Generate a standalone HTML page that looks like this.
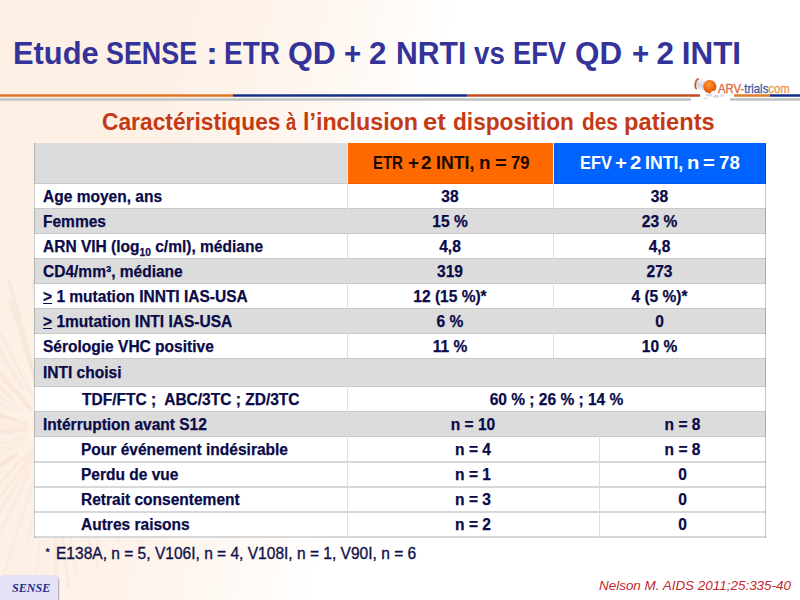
<!DOCTYPE html>
<html><head><meta charset="utf-8">
<style>
html,body{margin:0;padding:0;}
body{width:800px;height:600px;overflow:hidden;position:relative;font-family:"Liberation Sans",sans-serif;
background:linear-gradient(104deg,#fdefe3 0px,#fdf0e5 150px,#fef5ee 300px,#fffbf8 400px,#ffffff 445px);}
.a{position:absolute;white-space:pre;}
.ln{position:absolute;}
.hw{top:154px;font-size:17.6px;font-weight:bold;line-height:18px;transform-origin:0 0;}
.sw{top:109px;font-size:23px;font-weight:bold;color:#c43a14;line-height:26px;transform-origin:0 0;}
.tw{top:36px;font-size:31.4px;font-weight:bold;color:#333399;line-height:36px;transform-origin:0 0;}
.t{position:absolute;white-space:pre;font-weight:bold;font-size:16px;color:#0a0a48;line-height:18px;transform:scaleX(0.97);transform-origin:50% 0;-webkit-text-stroke:0.25px #0a0a48;}
.l1,.l2,.lx{transform-origin:0 0;}
.c2{left:347px;width:206px;text-align:center;}
.c3{left:553px;width:213px;text-align:center;}
.d2{left:347px;width:252px;text-align:center;}
.d3{left:599px;width:167px;text-align:center;}
.l1{left:43px;}
.l2{left:81px;}
</style></head>
<body>
<!-- burst --><svg style="position:absolute;left:0;top:0" width="300" height="600"><g stroke="#c08860" stroke-linecap="round"><line x1="74.5" y1="429.6" x2="192.5" y2="427.5" stroke-width="2.1" stroke-opacity="0.05"/><line x1="71.6" y1="432.1" x2="184.7" y2="443.3" stroke-width="2.1" stroke-opacity="0.05"/><line x1="72.3" y1="434.1" x2="179.1" y2="453.7" stroke-width="3.7" stroke-opacity="0.03"/><line x1="87.0" y1="441.8" x2="199.9" y2="477.9" stroke-width="3.2" stroke-opacity="0.05"/><line x1="68.8" y1="440.2" x2="184.5" y2="502.8" stroke-width="2.6" stroke-opacity="0.04"/><line x1="75.3" y1="444.6" x2="180.7" y2="505.3" stroke-width="2.4" stroke-opacity="0.05"/><line x1="74.1" y1="449.8" x2="156.2" y2="517.1" stroke-width="2.1" stroke-opacity="0.03"/><line x1="79.4" y1="457.7" x2="145.6" y2="520.1" stroke-width="2.6" stroke-opacity="0.05"/><line x1="68.2" y1="452.6" x2="143.9" y2="546.6" stroke-width="3.4" stroke-opacity="0.04"/><line x1="68.8" y1="460.4" x2="130.8" y2="560.8" stroke-width="3.5" stroke-opacity="0.04"/><line x1="59.2" y1="451.7" x2="101.1" y2="550.5" stroke-width="3.5" stroke-opacity="0.04"/><line x1="57.0" y1="450.0" x2="97.5" y2="565.3" stroke-width="3.5" stroke-opacity="0.05"/><line x1="55.5" y1="458.9" x2="76.9" y2="572.2" stroke-width="3.2" stroke-opacity="0.05"/><line x1="55.3" y1="474.9" x2="68.3" y2="586.2" stroke-width="2.9" stroke-opacity="0.06"/><line x1="51.8" y1="471.0" x2="56.3" y2="572.2" stroke-width="4.0" stroke-opacity="0.06"/><line x1="47.1" y1="461.4" x2="37.0" y2="572.8" stroke-width="2.0" stroke-opacity="0.05"/><line x1="45.5" y1="453.1" x2="28.5" y2="540.9" stroke-width="3.5" stroke-opacity="0.04"/><line x1="40.3" y1="460.2" x2="3.0" y2="576.2" stroke-width="2.2" stroke-opacity="0.05"/><line x1="29.6" y1="471.8" x2="-16.2" y2="565.7" stroke-width="3.7" stroke-opacity="0.04"/><line x1="33.9" y1="456.2" x2="-30.9" y2="561.3" stroke-width="3.9" stroke-opacity="0.04"/><line x1="33.9" y1="451.6" x2="-22.7" y2="527.5" stroke-width="3.0" stroke-opacity="0.05"/><line x1="36.1" y1="444.6" x2="-40.4" y2="524.8" stroke-width="2.7" stroke-opacity="0.05"/><line x1="17.1" y1="453.9" x2="-59.9" y2="509.8" stroke-width="3.2" stroke-opacity="0.06"/><line x1="11.4" y1="456.7" x2="-72.5" y2="514.8" stroke-width="3.7" stroke-opacity="0.06"/><line x1="21.3" y1="444.2" x2="-53.2" y2="481.1" stroke-width="3.3" stroke-opacity="0.03"/><line x1="25.6" y1="439.7" x2="-59.7" y2="473.8" stroke-width="2.7" stroke-opacity="0.03"/><line x1="26.4" y1="436.6" x2="-60.8" y2="461.2" stroke-width="2.7" stroke-opacity="0.03"/><line x1="11.7" y1="432.9" x2="-67.1" y2="438.8" stroke-width="2.5" stroke-opacity="0.04"/><line x1="26.3" y1="430.3" x2="-102.4" y2="432.1" stroke-width="4.0" stroke-opacity="0.05"/><line x1="27.6" y1="427.5" x2="-64.4" y2="417.3" stroke-width="2.7" stroke-opacity="0.04"/><line x1="26.0" y1="423.7" x2="-57.5" y2="401.7" stroke-width="3.9" stroke-opacity="0.05"/><line x1="15.3" y1="419.2" x2="-56.3" y2="397.0" stroke-width="3.1" stroke-opacity="0.07"/><line x1="13.8" y1="410.9" x2="-58.9" y2="372.6" stroke-width="2.7" stroke-opacity="0.04"/><line x1="20.1" y1="410.0" x2="-73.9" y2="347.4" stroke-width="2.7" stroke-opacity="0.04"/><line x1="12.2" y1="397.9" x2="-66.3" y2="331.2" stroke-width="3.6" stroke-opacity="0.06"/><line x1="31.5" y1="410.6" x2="-43.8" y2="331.6" stroke-width="2.7" stroke-opacity="0.03"/><line x1="31.3" y1="408.7" x2="-31.1" y2="337.6" stroke-width="3.4" stroke-opacity="0.07"/><line x1="24.2" y1="389.4" x2="-35.5" y2="295.5" stroke-width="3.9" stroke-opacity="0.04"/><line x1="37.7" y1="406.2" x2="-5.0" y2="323.5" stroke-width="2.4" stroke-opacity="0.05"/><line x1="36.8" y1="386.8" x2="10.8" y2="301.9" stroke-width="3.3" stroke-opacity="0.06"/><line x1="39.5" y1="391.6" x2="9.1" y2="280.0" stroke-width="3.6" stroke-opacity="0.06"/><line x1="47.1" y1="404.8" x2="32.9" y2="281.5" stroke-width="2.7" stroke-opacity="0.06"/><line x1="51.5" y1="398.2" x2="56.1" y2="300.1" stroke-width="3.9" stroke-opacity="0.06"/><line x1="51.9" y1="406.3" x2="59.3" y2="312.8" stroke-width="3.8" stroke-opacity="0.06"/><line x1="58.4" y1="386.0" x2="79.9" y2="273.8" stroke-width="3.3" stroke-opacity="0.04"/><line x1="58.0" y1="407.5" x2="87.1" y2="325.7" stroke-width="3.9" stroke-opacity="0.06"/><line x1="70.9" y1="386.8" x2="107.5" y2="311.5" stroke-width="3.7" stroke-opacity="0.06"/><line x1="64.0" y1="406.3" x2="113.2" y2="322.6" stroke-width="2.5" stroke-opacity="0.05"/><line x1="69.7" y1="404.1" x2="120.5" y2="337.2" stroke-width="3.8" stroke-opacity="0.04"/><line x1="76.4" y1="403.4" x2="159.3" y2="319.8" stroke-width="2.8" stroke-opacity="0.07"/><line x1="78.1" y1="407.6" x2="156.5" y2="345.1" stroke-width="2.0" stroke-opacity="0.05"/><line x1="66.7" y1="418.8" x2="174.4" y2="346.2" stroke-width="2.3" stroke-opacity="0.05"/><line x1="83.4" y1="414.8" x2="165.0" y2="377.8" stroke-width="3.0" stroke-opacity="0.05"/><line x1="72.1" y1="423.0" x2="181.5" y2="388.1" stroke-width="2.5" stroke-opacity="0.04"/><line x1="84.5" y1="423.1" x2="185.4" y2="402.9" stroke-width="3.5" stroke-opacity="0.07"/><line x1="88.1" y1="425.5" x2="184.3" y2="414.1" stroke-width="3.0" stroke-opacity="0.06"/></g></svg><!-- /burst -->
<!-- title -->
<div class="a tw" style="left:13.04px;transform:scaleX(0.9821);">Etude</div>
<div class="a tw" style="left:106.24px;transform:scaleX(0.8567);">SENSE</div>
<div class="a tw" style="left:205.93px;transform:scaleX(1.1500);">:</div>
<div class="a tw" style="left:224.12px;transform:scaleX(0.8900);">ETR</div>
<div class="a tw" style="left:287.98px;transform:scaleX(1.0156);">QD</div>
<div class="a tw" style="left:343.56px;transform:scaleX(0.9375);">+</div>
<div class="a tw" style="left:369.00px;transform:scaleX(1.0000);">2</div>
<div class="a tw" style="left:395.58px;transform:scaleX(0.9601);">NRTI</div>
<div class="a tw" style="left:473.75px;transform:scaleX(0.8824);">vs</div>
<div class="a tw" style="left:513.26px;transform:scaleX(0.8686);">EFV</div>
<div class="a tw" style="left:575.00px;transform:scaleX(1.0000);">QD</div>
<div class="a tw" style="left:631.56px;transform:scaleX(0.9375);">+</div>
<div class="a tw" style="left:656.50px;transform:scaleX(1.0000);">2</div>
<div class="a tw" style="left:681.75px;transform:scaleX(1.0000);">INTI</div>

<!-- header lines -->
<div class="ln" style="left:0px;top:94px;width:233px;height:3px;background:linear-gradient(#f3b888,#dc7428 35%,#dc7428 65%,#f3b888)"></div>
<div class="ln" style="left:233px;top:94px;width:234px;height:3px;background:linear-gradient(#8898c8,#122e84 35%,#122e84 65%,#8898c8)"></div>
<div class="ln" style="left:467px;top:94px;width:233px;height:3px;background:linear-gradient(#e8a888,#bf4e1c 35%,#bf4e1c 65%,#e8a888)"></div>
<div class="ln" style="left:734px;top:94px;width:36px;height:3px;background:linear-gradient(#f3b888,#e27c2c 35%,#e27c2c 65%,#f3b888)"></div>
<div class="ln" style="left:770px;top:94px;width:30px;height:3px;background:linear-gradient(#8898c8,#122e84 35%,#122e84 65%,#8898c8)"></div>
<div class="ln" style="left:0;top:98px;width:691px;height:3px;background:linear-gradient(#e4e4e6,#bcbec2 35%,#bcbec2 65%,#e4e4e6)"></div>
<div class="ln" style="left:730px;top:98px;width:70px;height:3px;background:linear-gradient(#e4e4e6,#bcbec2 35%,#bcbec2 65%,#e4e4e6)"></div>

<!-- logo -->
<svg style="position:absolute;left:686px;top:72px" width="110" height="32" viewBox="686 72 110 32">
 <defs>
  <radialGradient id="og" cx="0.42" cy="0.35" r="0.72"><stop offset="0" stop-color="#ff9a34"/><stop offset="0.5" stop-color="#f56c14"/><stop offset="1" stop-color="#cc4a0e"/></radialGradient>
  <linearGradient id="wg" x1="0" y1="0" x2="0" y2="1"><stop offset="0" stop-color="#f4f4f8"/><stop offset="0.6" stop-color="#d6d6de"/><stop offset="1" stop-color="#e8e8ee"/></linearGradient>
 </defs>
 <g transform="rotate(8 700 84)">
  <rect x="695" y="78.6" width="14" height="10.8" rx="2.5" fill="url(#wg)"/>
  <path d="M698 78.8 C 694.6 80.5, 694.4 87.8, 697.4 89.6" stroke="#c85a28" stroke-width="1.6" fill="none"/>
 </g>
 <circle cx="709.8" cy="86.6" r="6.6" fill="url(#og)"/>
 <ellipse cx="713.5" cy="92.4" rx="2.6" ry="1.7" fill="#f8f8fa"/>
 <ellipse cx="709" cy="95.2" rx="3" ry="1.4" fill="#d8d8e2"/>
 <ellipse cx="716" cy="96.4" rx="3.2" ry="1.4" fill="#d4d4de"/>
 <ellipse cx="722.5" cy="95.6" rx="2.6" ry="1.3" fill="#dedee8"/>
 <ellipse cx="705.5" cy="98.4" rx="2.4" ry="1.1" fill="#e0e0ea"/>
</svg>
<div class="a" style="left:718px;top:82px;font-size:12px;line-height:14px;transform-origin:0 0;transform:scaleX(0.947);-webkit-text-stroke:0.3px currentColor;"><span style="color:#e0683a">ARV-</span><span style="color:#3f5ca0;">trials</span><span style="color:#f0964e">com</span></div>

<!-- subtitle -->
<div class="a sw" style="left:101.51px;transform:scaleX(0.9902);">Caractéristiques</div>
<div class="a sw" style="left:286.15px;transform:scaleX(0.8000);">à</div>
<div class="a sw" style="left:302.98px;transform:scaleX(1.0114);">l’inclusion</div>
<div class="a sw" style="left:422.63px;transform:scaleX(1.1184);">et</div>
<div class="a sw" style="left:452.77px;transform:scaleX(0.9854);">disposition</div>
<div class="a sw" style="left:581.59px;transform:scaleX(0.9079);">des</div>
<div class="a sw" style="left:623.94px;transform:scaleX(1.0294);">patients</div>

<!-- table backgrounds -->
<div class="ln" style="left:34px;top:143px;width:732px;height:395px;background:#ffffff;"></div>
<div class="ln" style="left:34px;top:143px;width:313px;height:41px;background:#dcdcdc;"></div>
<div class="ln" style="left:347px;top:143px;width:206px;height:41px;background:#ff6a00;"></div>
<div class="ln" style="left:553px;top:143px;width:213px;height:41px;background:#0063ff;"></div>
<div class="ln" style="left:34px;top:208px;width:732px;height:26px;background:#dcdcdc;"></div>
<div class="ln" style="left:34px;top:258px;width:732px;height:26px;background:#dcdcdc;"></div>
<div class="ln" style="left:34px;top:308px;width:732px;height:26px;background:#dcdcdc;"></div>
<div class="ln" style="left:34px;top:358px;width:732px;height:29px;background:#dcdcdc;"></div>
<div class="ln" style="left:34px;top:411px;width:732px;height:26px;background:#dcdcdc;"></div>
<div class="ln" style="left:34px;top:183px;width:732px;height:1px;background:rgba(0,0,0,0.085);"></div>
<div class="ln" style="left:34px;top:208px;width:732px;height:1px;background:rgba(0,0,0,0.085);"></div>
<div class="ln" style="left:34px;top:233px;width:732px;height:1px;background:rgba(0,0,0,0.085);"></div>
<div class="ln" style="left:34px;top:258px;width:732px;height:1px;background:rgba(0,0,0,0.085);"></div>
<div class="ln" style="left:34px;top:283px;width:732px;height:1px;background:rgba(0,0,0,0.085);"></div>
<div class="ln" style="left:34px;top:308px;width:732px;height:1px;background:rgba(0,0,0,0.085);"></div>
<div class="ln" style="left:34px;top:333px;width:732px;height:1px;background:rgba(0,0,0,0.085);"></div>
<div class="ln" style="left:34px;top:358px;width:732px;height:1px;background:rgba(0,0,0,0.085);"></div>
<div class="ln" style="left:34px;top:386px;width:732px;height:1px;background:rgba(0,0,0,0.085);"></div>
<div class="ln" style="left:34px;top:411px;width:732px;height:1px;background:rgba(0,0,0,0.085);"></div>
<div class="ln" style="left:34px;top:436px;width:732px;height:1px;background:rgba(0,0,0,0.085);"></div>
<div class="ln" style="left:34px;top:461px;width:732px;height:2px;background:#d8d8d8;"></div>
<div class="ln" style="left:34px;top:486px;width:732px;height:2px;background:#d8d8d8;"></div>
<div class="ln" style="left:34px;top:511px;width:732px;height:2px;background:#d8d8d8;"></div>
<div class="ln" style="left:34px;top:536px;width:732px;height:2px;background:#d8d8d8;"></div>
<div class="ln" style="left:34px;top:143px;width:1px;height:395px;background:rgba(0,0,0,0.18);"></div>
<div class="ln" style="left:765px;top:143px;width:1px;height:395px;background:rgba(0,0,0,0.22);"></div>
<div class="ln" style="left:347px;top:143px;width:1px;height:41px;background:#f2e6e0;"></div>
<div class="ln" style="left:553px;top:143px;width:1px;height:41px;background:#f0f0f4;"></div>
<div class="ln" style="left:347px;top:184px;width:1px;height:354px;background:#dcdcf0;"></div>
<div class="ln" style="left:553px;top:184px;width:1px;height:174px;background:#dcdcf0;"></div>
<div class="ln" style="left:599px;top:411px;width:1px;height:127px;background:#dcdcf0;"></div>

<!-- header text -->
<div class="a hw" style="left:372.55px;color:#1a0800;transform:scaleX(0.8500);">ETR</div>
<div class="a hw" style="left:407.53px;color:#1a0800;transform:scaleX(1.0667);">+</div>
<div class="a hw" style="left:421.32px;color:#1a0800;transform:scaleX(1.0750);">2</div>
<div class="a hw" style="left:436.29px;color:#1a0800;transform:scaleX(1.0056);">INTI,</div>
<div class="a hw" style="left:478.83px;color:#1a0800;transform:scaleX(1.0667);">n</div>
<div class="a hw" style="left:494.88px;color:#1a0800;transform:scaleX(1.1500);">=</div>
<div class="a hw" style="left:510.86px;color:#1a0800;transform:scaleX(0.9444);">79</div>
<div class="a hw" style="left:580.47px;color:#ffffff;transform:scaleX(0.9333);">EFV</div>
<div class="a hw" style="left:615.47px;color:#ffffff;transform:scaleX(1.1500);">+</div>
<div class="a hw" style="left:629.55px;color:#ffffff;transform:scaleX(1.1500);">2</div>
<div class="a hw" style="left:645.30px;color:#ffffff;transform:scaleX(1.0028);">INTI,</div>
<div class="a hw" style="left:686.77px;color:#ffffff;transform:scaleX(1.1500);">n</div>
<div class="a hw" style="left:702.72px;color:#ffffff;transform:scaleX(1.1500);">=</div>
<div class="a hw" style="left:718.64px;color:#ffffff;transform:scaleX(1.0611);">78</div>

<!-- body rows -->
<div class="t l1" style="top:188px">Age moyen, ans</div>
<div class="t c2" style="top:188px">38</div>
<div class="t c3" style="top:188px">38</div>

<div class="t l1" style="top:213px">Femmes</div>
<div class="t c2" style="top:213px">15 %</div>
<div class="t c3" style="top:213px">23 %</div>

<div class="t l1" style="top:238px">ARN VIH (log<span style="font-size:10.5px;vertical-align:-4px">10</span> c/ml), médiane</div>
<div class="t c2" style="top:238px">4,8</div>
<div class="t c3" style="top:238px">4,8</div>

<div class="t l1" style="top:263px">CD4/mm³, médiane</div>
<div class="t c2" style="top:263px">319</div>
<div class="t c3" style="top:263px">273</div>

<div class="t l1" style="top:288px"><u>&gt;</u> 1 mutation INNTI IAS-USA</div>
<div class="t c2" style="top:288px">12 (15 %)*</div>
<div class="t c3" style="top:288px">4 (5 %)*</div>

<div class="t l1" style="top:313px"><u>&gt;</u> 1mutation INTI IAS-USA</div>
<div class="t c2" style="top:313px">6 %</div>
<div class="t c3" style="top:313px">0</div>

<div class="t l1" style="top:338px">Sérologie VHC positive</div>
<div class="t c2" style="top:338px">11 %</div>
<div class="t c3" style="top:338px">10 %</div>

<div class="t l1" style="top:364px">INTI choisi</div>

<div class="t lx" style="left:82px;top:391px">TDF/FTC ;  ABC/3TC ; ZD/3TC</div>
<div class="t" style="left:347px;width:419px;text-align:center;top:391px">60 % ; 26 % ; 14 %</div>

<div class="t l1" style="top:416px">Intérruption avant S12</div>
<div class="t d2" style="top:416px">n = 10</div>
<div class="t d3" style="top:416px">n = 8</div>

<div class="t l2" style="top:441px">Pour événement indésirable</div>
<div class="t d2" style="top:441px">n = 4</div>
<div class="t d3" style="top:441px">n = 8</div>

<div class="t l2" style="top:466px">Perdu de vue</div>
<div class="t d2" style="top:466px">n = 1</div>
<div class="t d3" style="top:466px">0</div>

<div class="t l2" style="top:491px">Retrait consentement</div>
<div class="t d2" style="top:491px">n = 3</div>
<div class="t d3" style="top:491px">0</div>

<div class="t l2" style="top:516px">Autres raisons</div>
<div class="t d2" style="top:516px">n = 2</div>
<div class="t d3" style="top:516px">0</div>

<!-- footnote -->
<div class="a" style="left:45.5px;top:547px;font-size:11px;font-weight:bold;color:#12124a;line-height:10px;">*</div><div class="a" style="left:56px;top:545px;font-size:16px;color:#12124a;line-height:18px;-webkit-text-stroke:0.35px #12124a;transform-origin:0 0;transform:scaleX(0.971);">E138A, n = 5, V106I, n = 4, V108I, n = 1, V90I, n = 6</div>

<!-- SENSE badge -->
<div class="ln" style="left:0px;top:575px;width:58px;height:30px;background:#e3e3f5;border-radius:5px;box-shadow:1px 1px 1.5px rgba(100,100,130,0.55);"></div>
<div class="a" style="left:12px;top:581px;font-family:'Liberation Serif',serif;font-style:italic;font-weight:bold;font-size:12.1px;color:#2b2b88;line-height:15px;">SENSE</div>

<!-- citation -->
<div class="a" style="left:599px;top:578px;font-size:13.45px;font-style:italic;color:#c0282d;line-height:16px;">Nelson M. AIDS 2011;25:335-40</div>

</body></html>
